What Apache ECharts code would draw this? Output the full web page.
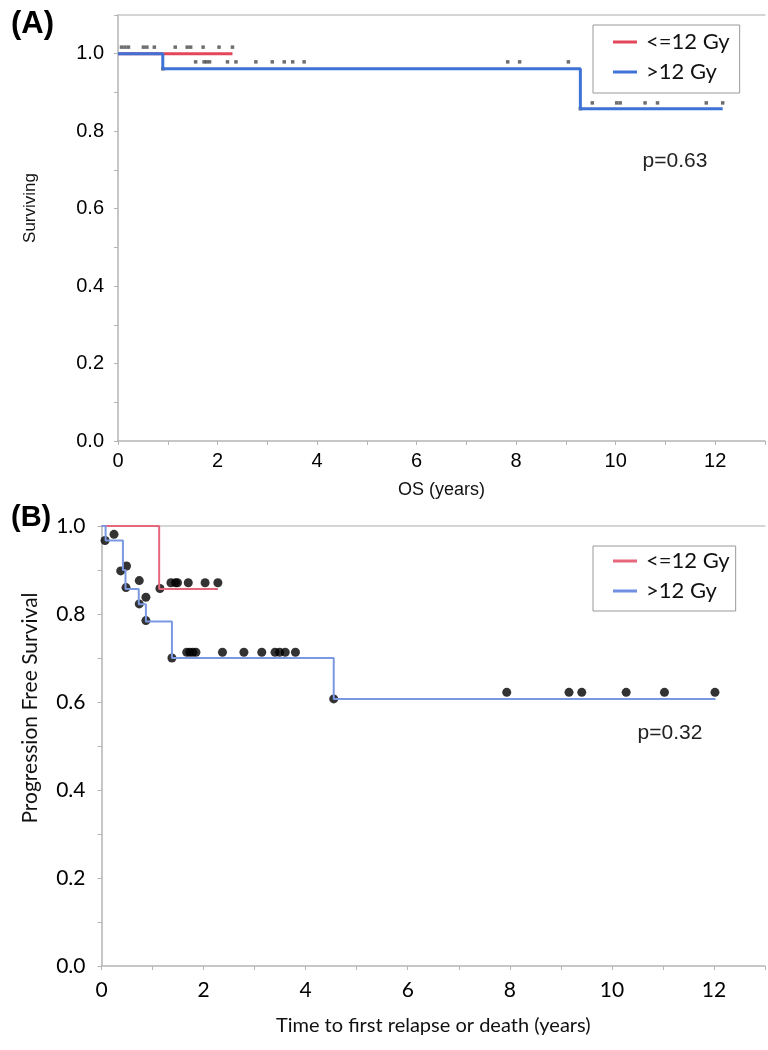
<!DOCTYPE html>
<html>
<head>
  <meta charset="utf-8">
  <title>Kaplan-Meier</title>
  <script src="https://cdn.jsdelivr.net/npm/echarts@6/dist/echarts.min.js"></script>
  <style>
    html, body { margin: 0; padding: 0; background: #fff; }
    #main { width: 768px; height: 1050px; }
  </style>
</head>
<body>
  <div id="main"></div>
  <script>
    // ---- data (years, survival) ----
    // panel A: overall survival
    var osLow = [[0, 1], [2.3, 1]];
    var osHigh = [[0, 1], [0.9, 1], [0.9, 0.961], [9.29, 0.961], [9.29, 0.858], [12.15, 0.858]];
    var osCensorTop = [0.07, 0.14, 0.21, 0.51, 0.58, 0.73, 1.15, 1.39, 1.46, 1.71, 2.03, 2.3];
    var osCensorMid = [1.56, 1.73, 1.78, 1.84, 2.2, 2.37, 2.77, 3.1, 3.34, 3.51, 3.74, 7.83, 8.07, 9.05];
    var osCensorLow = [9.53, 10.02, 10.09, 10.59, 10.84, 11.82, 12.15];
    var osEvents = [[0.9, 0.961], [9.29, 0.858]];

    // panel B: progression free survival
    var pfsLow = [[0, 1], [1.13, 1], [1.13, 0.857], [2.28, 0.857]];
    var pfsHigh = [[0, 1], [0.08, 1], [0.08, 0.967], [0.42, 0.967], [0.42, 0.9], [0.47, 0.9], [0.47, 0.857],
      [0.73, 0.857], [0.73, 0.822], [0.87, 0.822], [0.87, 0.783], [1.38, 0.783], [1.38, 0.70],
      [4.55, 0.70], [4.55, 0.607], [12.03, 0.607]];
    var pfsPoints = [[0.07, 0.967], [0.245, 0.981], [0.376, 0.898], [0.49, 0.909], [0.48, 0.86],
      [0.74, 0.876], [0.74, 0.823], [0.87, 0.838], [0.87, 0.785], [1.38, 0.70], [1.145, 0.858],
      [1.36, 0.871], [1.45, 0.871], [1.49, 0.871], [1.70, 0.871], [2.03, 0.871], [2.28, 0.871],
      [1.67, 0.713], [1.73, 0.713], [1.79, 0.713], [1.85, 0.713], [2.37, 0.713], [2.79, 0.713],
      [3.14, 0.713], [3.40, 0.713], [3.49, 0.713], [3.60, 0.713], [3.80, 0.713],
      [4.55, 0.607], [7.94, 0.622], [9.16, 0.622], [9.41, 0.622], [10.28, 0.622], [11.03, 0.622], [12.02, 0.622]];

    var groupNames = ['<=12 Gy', '>12 Gy'];

    function at(times, v) {
      return times.map(function (t) { return [t, v]; });
    }
    var osMarks = at(osCensorTop, 1.017).concat(at(osCensorMid, 0.979), at(osCensorLow, 0.873), osEvents);

    var chart = echarts.init(document.getElementById('main'));

    var sansA = 'Liberation Sans';
    var sansB = 'Lato';

    function evenTenth(v) {
      var k = Math.round(v * 10);
      return (k % 2 === 0 && k <= 10) ? (k / 10).toFixed(1) : '';
    }
    function evenYear(v) {
      return (Math.round(v) % 2 === 0 && v < 12.5) ? String(Math.round(v)) : '';
    }

    function xAxisFor(grid, font, size, nameSize, name, nameGap, margin) {
      return {
        type: 'value', gridIndex: grid, min: 0, max: 13, interval: 1,
        name: name, nameLocation: 'middle', nameGap: nameGap,
        nameTextStyle: { fontFamily: font, fontSize: nameSize, color: '#111' },
        axisLine: { lineStyle: { color: '#b5b5b5', width: 1.5 } },
        axisTick: { show: true, length: 4, lineStyle: { color: '#b5b5b5' } },
        axisLabel: { formatter: evenYear, fontFamily: font, fontSize: size, color: '#000', margin: margin },
        splitLine: { show: false }
      };
    }
    function topLine(grid) {
      return {
        type: 'value', gridIndex: grid, position: 'top', min: 0, max: 13,
        axisLine: { show: true, onZero: false, lineStyle: { color: '#c8c8c8', width: 1.5 } },
        axisTick: { show: false }, axisLabel: { show: false }, splitLine: { show: false }
      };
    }
    function yAxisFor(grid, font, size, max, margin) {
      return {
        type: 'value', gridIndex: grid, min: 0, max: max, interval: 0.1,
        axisLine: { show: true, lineStyle: { color: '#b5b5b5', width: 1.5 } },
        axisTick: { show: true, length: 4, lineStyle: { color: '#b5b5b5' } },
        axisLabel: { formatter: evenTenth, fontFamily: font, fontSize: size, color: '#000', margin: margin },
        splitLine: { show: false }
      };
    }

    var option = {
      animation: false,
      backgroundColor: '#fff',
      grid: [
        { left: 118, top: 15, width: 647, height: 426 },
        { left: 101.5, top: 526, width: 664, height: 440 }
      ],
      xAxis: [
        xAxisFor(0, sansA, 20, 18, 'OS (years)', 40, 10),
        topLine(0),
        xAxisFor(1, sansB, 21, 20, 'Time to first relapse or death (years)', 50, 14),
        topLine(1)
      ],
      yAxis: [
        yAxisFor(0, sansA, 20, 1.1, 14),
        yAxisFor(1, sansB, 21, 1.0, 16)
      ],
      legend: [
        {
          orient: 'vertical', left: 593, top: 25,
          padding: [5, 10, 9, 20], itemGap: 6, itemWidth: 24, itemHeight: 3, icon: 'rect',
          borderColor: '#999', borderWidth: 1, backgroundColor: '#fff',
          textStyle: { fontFamily: sansB, fontSize: 22, color: '#111', lineHeight: 24, padding: [0, 0, 0, 4] },
          data: [
            { name: groupNames[0], itemStyle: { color: '#e2475a' } },
            { name: groupNames[1], itemStyle: { color: '#3f72d6' } }
          ]
        },
        {
          orient: 'vertical', left: 593, top: 546,
          padding: [3, 6, 8, 20], itemGap: 6, itemWidth: 24, itemHeight: 3, icon: 'rect',
          borderColor: '#999', borderWidth: 1, backgroundColor: '#fff',
          textStyle: { fontFamily: sansB, fontSize: 22, color: '#111', lineHeight: 24, padding: [0, 0, 0, 4] },
          data: [
            { name: groupNames[0], itemStyle: { color: '#e6677c' } },
            { name: groupNames[1], itemStyle: { color: '#6f8fe2' } }
          ]
        }
      ],
      series: [
        {
          name: groupNames[0], type: 'line', xAxisIndex: 0, yAxisIndex: 0, data: osLow,
          showSymbol: false, lineStyle: { color: '#e2475a', width: 3 }, itemStyle: { color: '#e2475a' }
        },
        {
          name: groupNames[1], type: 'line', xAxisIndex: 0, yAxisIndex: 0, data: osHigh,
          showSymbol: false, lineStyle: { color: '#3f72d6', width: 3 }, itemStyle: { color: '#3f72d6' }
        },
        {
          name: 'os marks', type: 'scatter', xAxisIndex: 0, yAxisIndex: 0, data: osMarks,
          symbol: 'rect', symbolSize: 3.5, itemStyle: { color: '#4a4a4a' }
        },
        {
          name: groupNames[0], type: 'line', xAxisIndex: 2, yAxisIndex: 1, data: pfsLow,
          showSymbol: false, lineStyle: { color: '#e6677c', width: 2 }, itemStyle: { color: '#e6677c' }
        },
        {
          name: groupNames[1], type: 'line', xAxisIndex: 2, yAxisIndex: 1, data: pfsHigh,
          showSymbol: false, lineStyle: { color: '#7b99e2', width: 2 }, itemStyle: { color: '#7b99e2' }
        },
        {
          name: 'pfs marks', type: 'scatter', xAxisIndex: 2, yAxisIndex: 1, data: pfsPoints,
          symbolSize: 9, itemStyle: { color: '#000' }
        }
      ],
      graphic: [
        { type: 'text', left: 11, top: 9, style: { text: '(A)', fontFamily: sansA, fontSize: 31, fontWeight: 'bold', fill: '#000' } },
        { type: 'text', left: 11, top: 503, style: { text: '(B)', fontFamily: sansA, fontSize: 29, fontWeight: 'bold', fill: '#000' } },
        {
          type: 'text', x: 30, y: 208, rotation: Math.PI / 2,
          style: { text: 'Surviving', fontFamily: sansA, fontSize: 17, fill: '#111', align: 'center', verticalAlign: 'middle' }
        },
        {
          type: 'text', x: 30, y: 708, rotation: Math.PI / 2,
          style: { text: 'Progression Free Survival', fontFamily: sansB, fontSize: 21, fill: '#111', align: 'center', verticalAlign: 'middle' }
        },
        {
          type: 'text', x: 675, y: 161,
          style: { text: 'p=0.63', fontFamily: sansA, fontSize: 21, fill: '#222', align: 'center', verticalAlign: 'middle' }
        },
        {
          type: 'text', x: 670, y: 733,
          style: { text: 'p=0.32', fontFamily: sansA, fontSize: 21, fill: '#222', align: 'center', verticalAlign: 'middle' }
        }
      ]
    };

    chart.setOption(option);
  </script>
</body>
</html>
